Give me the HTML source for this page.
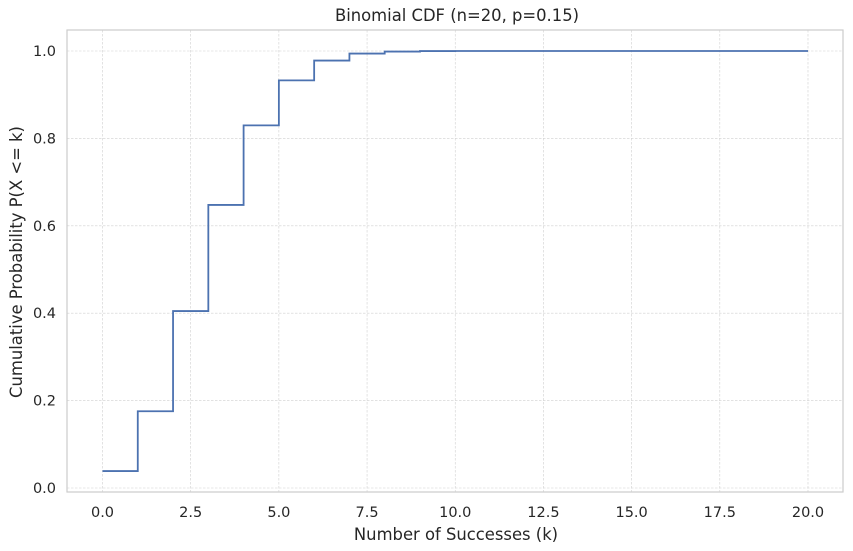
<!DOCTYPE html>
<html><head><meta charset="utf-8"><style>
body{margin:0;background:#fff;}
svg{display:block;font-family:"DejaVu Sans","Liberation Sans",sans-serif;}
</style></head><body>
<svg id="chart" width="853" height="551">
<rect x="0" y="0" width="853" height="551" fill="#fff"/>
<g id="grid"></g>
<rect x="67" y="30" width="776" height="462" fill="none" stroke="#cccccc" stroke-width="1.2"/>
<g id="xticks"></g>
<g id="yticks"></g>
<path id="line" fill="none" stroke="#4c72b0" stroke-width="1.8"/>
<text x="457" y="21" text-anchor="middle" font-size="16.4" fill="#262626">Binomial CDF (n=20, p=0.15)</text>
<text x="456" y="540" text-anchor="middle" font-size="16.4" fill="#262626">Number of Successes (k)</text>
<text transform="translate(22,262) rotate(-90)" text-anchor="middle" font-size="16.4" fill="#262626">Cumulative Probability P(X &lt;= k)</text>
</svg>
<script>
const ks=[0,1,2,3,4,5,6,7,8,9,10,11,12,13,14,15,16,17,18,19,20];
const cdf=[0.0388,0.1756,0.4049,0.6477,0.8298,0.9327,0.9781,0.9941,0.9987,0.9998,1,1,1,1,1,1,1,1,1,1,1];
const xTicks=[0,2.5,5,7.5,10,12.5,15,17.5,20];
const xTickLabels=["0.0","2.5","5.0","7.5","10.0","12.5","15.0","17.5","20.0"];
const yTicks=[0,0.2,0.4,0.6,0.8,1.0];
const yTickLabels=["0.0","0.2","0.4","0.6","0.8","1.0"];
const X=v=>102.5+v*(808-102.5)/20;
const Y=v=>488-v*(488-51);
const NS="http://www.w3.org/2000/svg";
const grid=document.getElementById('grid'),xg=document.getElementById('xticks'),yg=document.getElementById('yticks');
function mk(t,a,p){const e=document.createElementNS(NS,t);for(const k in a)e.setAttribute(k,a[k]);p.appendChild(e);return e;}
xTicks.forEach((v,i)=>{
 const l=mk('line',{x1:X(v),x2:X(v),y1:30,y2:492,stroke:'#d0d0d0','stroke-width':0.6,'stroke-dasharray':'2.5,1.5'},grid);
 
 
 const t=mk('text',{x:X(v),y:517,'text-anchor':'middle','font-size':14.5,fill:'#262626'},xg);
 t.textContent=xTickLabels[i];
 
 
});
yTicks.forEach((v,i)=>{
 const l=mk('line',{x1:67,x2:843,y1:Y(v),y2:Y(v),stroke:'#d0d0d0','stroke-width':0.6,'stroke-dasharray':'2.5,1.5'},grid);
 
 
 const t=mk('text',{x:56,y:Y(v)+5,'text-anchor':'end','font-size':14.5,fill:'#262626'},yg);
 t.textContent=yTickLabels[i];
 
 
});
let d='M'+X(ks[0])+','+Y(cdf[0]);
for(let i=1;i<ks.length;i++){d+=' H'+X(ks[i])+' V'+Y(cdf[i]);}
document.getElementById('line').setAttribute('d',d);
</script>
</body></html>
